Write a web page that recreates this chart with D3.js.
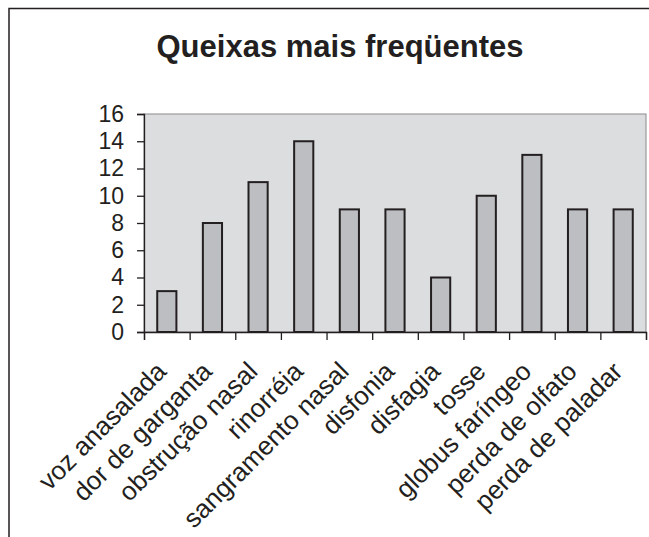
<!DOCTYPE html>
<html>
<head>
<meta charset="utf-8">
<script src="https://cdn.jsdelivr.net/npm/d3@7"></script>
<style>
  body { margin: 0; background: #fff; }
  text { font-family: "Liberation Sans", Arial, sans-serif; fill: #231f20; }
</style>
</head>
<body>
<svg id="chart"></svg>
<script>
// data
var categories = ["voz anasalada", "dor de garganta", "obstrução nasal", "rinorréia",
                  "sangramento nasal", "disfonia", "disfagia", "tosse",
                  "globus faríngeo", "perda de olfato", "perda de paladar"];
var counts = [3, 8, 11, 14, 9, 9, 4, 10, 13, 9, 9];
var yTicks = [0, 2, 4, 6, 8, 10, 12, 14, 16];

var W = 649, H = 537;
var margin = {top: 114, right: 3, bottom: 205, left: 144},
    width = W - margin.left - margin.right,
    height = H - margin.top - margin.bottom;

var svg = d3.select("#chart")
    .attr("width", W)
    .attr("height", H);

// outer frame (top and left only visible)
svg.append("path")
    .attr("d", "M9,537 L9,8.5 L649,8.5")
    .attr("fill", "none")
    .attr("stroke", "#231f20")
    .attr("stroke-width", 1.5);

svg.append("text")
    .attr("x", 340)
    .attr("y", 57)
    .attr("text-anchor", "middle")
    .style("font-size", "31px")
    .style("font-weight", "bold")
    .text("Queixas mais freqüentes");

var g = svg.append("g")
    .attr("transform", "translate(" + margin.left + "," + margin.top + ")");

var x = d3.scaleBand().domain(categories).range([0, width]).paddingInner(0.58).paddingOuter(0.29);
var xb = d3.scaleLinear().domain([0, categories.length]).range([0, width]);
var y = d3.scaleLinear().domain([0, 16]).range([height, 0]);

// plot area
g.append("rect")
    .attr("x", 0).attr("y", 0)
    .attr("width", width).attr("height", height)
    .attr("fill", "#dcdddf")
    .attr("stroke", "#8a8a8c")
    .attr("stroke-width", 1);

g.selectAll(".bar")
    .data(counts)
    .enter()
    .append("rect")
    .attr("class", "bar")
    .attr("x", function(d, i) { return x(categories[i]); })
    .attr("y", function(d) { return y(d); })
    .attr("width", x.bandwidth())
    .attr("height", function(d) { return y(0) - y(d); })
    .attr("fill", "#bdbec2")
    .attr("stroke", "#231f20")
    .attr("stroke-width", 2);

// Y axis
var yAxis = g.append("g")
    .call(d3.axisLeft(y).tickValues(yTicks).tickSize(7).tickPadding(13));
yAxis.select(".domain").attr("stroke", "#231f20").attr("stroke-width", 1.3);
yAxis.selectAll("line").attr("stroke", "#231f20").attr("stroke-width", 1.3);
yAxis.selectAll("text").style("font-size", "23px").style("font-family", "Liberation Sans, Arial, sans-serif").attr("fill", "#231f20");

// X axis: ticks between categories
var xAxis = g.append("g")
    .attr("transform", "translate(0," + height + ")")
    .call(d3.axisBottom(xb).tickValues(d3.range(categories.length + 1)).tickSize(8).tickFormat(""));
xAxis.select(".domain").attr("stroke", "#231f20").attr("stroke-width", 1.3);
xAxis.selectAll("line").attr("stroke", "#231f20").attr("stroke-width", 1.3);

g.selectAll(".xlab")
    .data(categories)
    .enter()
    .append("text")
    .attr("class", "xlab")
    .attr("text-anchor", "end")
    .attr("transform", function(d) {
      return "translate(" + (x(d) + x.bandwidth() / 2 + 1) + "," + (height + 41) + ") rotate(-45)";
    })
    .style("font-size", "26px")
    .text(function(d) { return d; });
</script>
</body>
</html>
